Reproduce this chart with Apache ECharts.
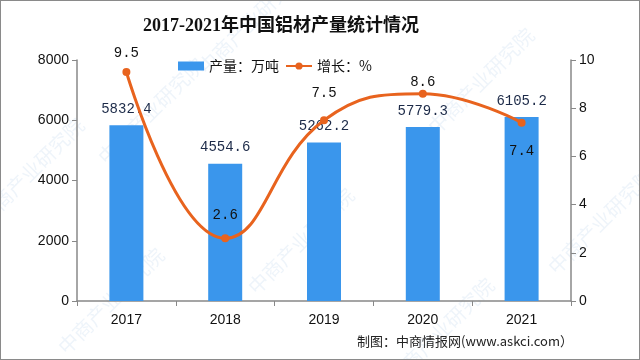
<!DOCTYPE html>
<html><head><meta charset="utf-8">
<script src="https://cdn.jsdelivr.net/npm/echarts@6/dist/echarts.min.js"></script>
<style>
html,body{margin:0;padding:0;background:#fff;}
#c{width:640px;height:360px;box-sizing:border-box;border:1px solid #8a8a8a;}
</style></head>
<body><div id="c"></div>
<script>
const years = ['2017','2018','2019','2020','2021'];
const output = [5832.4, 4554.6, 5262.2, 5779.3, 6105.2];
const growth = [9.5, 2.6, 7.5, 8.6, 7.4];
const leftTicks = [0, 2000, 4000, 6000, 8000];
const rightTicks = [0, 2, 4, 6, 8, 10];

const numFont = "'Liberation Mono', monospace";
const growthLabelPos = [
  {position:'top', distance:8},
  {position:'top', distance:12},
  {position:'top', distance:16},
  {position:'top', distance:0},
  {position:'bottom', distance:18}
];

const chart = echarts.init(document.getElementById('c'), null, {renderer:'canvas'});

const wm = [];
const wmPos = [[150,110],[480,80],[300,240],[600,220],[110,300],[250,20],[440,330],[30,170]];
wmPos.forEach(p => {
  wm.push({type:'text', x:p[0], y:p[1], rotation:Math.PI/4, z:-1, silent:true,
    style:{text:'中商产业研究院', fill:'rgba(120,170,220,0.13)', font:"20px 'Noto Sans CJK SC'", align:'center', verticalAlign:'middle'}});
});

chart.setOption({
  animation:false,
  title:{
    text:'2017-2021年中国铝材产量统计情况',
    left:137, top:11,
    textStyle:{fontSize:18, fontWeight:'bold', color:'#111', fontFamily:"'Liberation Serif','Noto Sans CJK SC'"}
  },
  legend:{
    left:172, top:53, itemGap:6, itemWidth:26, itemHeight:9,
    textStyle:{fontSize:14, color:'#111', fontFamily:"'Noto Sans CJK SC'"},
    data:[{name:'产量：万吨', icon:'rect'}, {name:'增长：%'}]
  },
  grid:{left:76, right:68, top:59, bottom:58},
  graphic:wm.concat([{
    type:'text', right:66, top:334,
    style:{text:'制图：中商情报网(www.askci.com）', fill:'#222', font:"13px 'Noto Sans CJK SC'"}
  }]),
  xAxis:{
    type:'category', data:years,
    axisLine:{lineStyle:{color:'#888', width:1.5}},
    axisTick:{show:true, length:5, lineStyle:{color:'#888'}},
    axisLabel:{fontSize:14, color:'#111', margin:12, fontFamily:"'Liberation Sans'"}
  },
  yAxis:[{
    type:'value', min:leftTicks[0], max:leftTicks[leftTicks.length-1], interval:2000,
    axisLine:{show:true, lineStyle:{color:'#888', width:1.5}},
    axisTick:{show:true, length:5, lineStyle:{color:'#888'}},
    splitLine:{show:false},
    axisLabel:{fontSize:14, color:'#111', margin:8, fontFamily:"'Liberation Sans'", formatter:v=>String(v)}
  },{
    type:'value', min:rightTicks[0], max:rightTicks[rightTicks.length-1], interval:2,
    axisLine:{show:true, lineStyle:{color:'#888', width:1.5}},
    axisTick:{show:true, length:5, lineStyle:{color:'#888'}},
    splitLine:{show:false},
    axisLabel:{fontSize:14, color:'#111', margin:8, fontFamily:"'Liberation Sans'", formatter:v=>String(v)}
  }],
  series:[{
    name:'产量：万吨', type:'bar', data:output, barWidth:34,
    itemStyle:{color:'#3A96EC'},
    label:{show:true, position:'top', distance:9, color:'#1c2a48', fontSize:14, fontFamily:numFont}
  },{
    name:'增长：%', type:'line', yAxisIndex:1, smooth:0.45,
    data:growth.map((v,i)=>({value:v, label:growthLabelPos[i]})),
    symbol:'circle', symbolSize:8,
    lineStyle:{color:'#E8631E', width:3},
    itemStyle:{color:'#E8631E'},
    label:{show:true, color:'#111', fontSize:14, fontFamily:numFont}
  }]
});
</script></body></html>
